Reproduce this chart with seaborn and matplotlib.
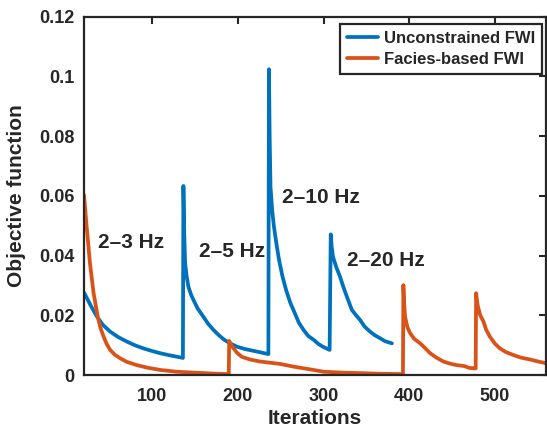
import numpy as np
import pandas as pd
import matplotlib
matplotlib.use("Agg")
import matplotlib.pyplot as plt
import seaborn as sns

# ---- data ----
blue_x = [20, 28, 35.3, 42, 50.7, 60, 70, 80, 89.5, 100, 109, 120, 134.3, 135.6,
          136.2, 137.2, 138.2, 140, 142, 145, 148, 153, 159.6, 165, 171.3, 177, 183, 190, 198.6, 208, 218, 226, 235.5,
          236.2, 237, 238, 240, 242, 245, 248, 252, 256.2, 261, 266.4, 271, 276.6, 282, 288.8, 294, 299, 307.1,
          308.4, 309.5, 311, 315, 319.3, 323, 327.3, 333.1, 338, 342.8, 348, 354.5, 360, 366.2, 372, 379.9]
blue_y = [0.0276, 0.0232, 0.0195, 0.0168, 0.0145, 0.0127, 0.0112, 0.0099, 0.0089, 0.0080, 0.0073, 0.0066, 0.0058, 0.0057,
          0.0633, 0.0470, 0.0374, 0.0330, 0.0296, 0.0270, 0.0251, 0.0222, 0.0195, 0.0172, 0.0151, 0.0135, 0.0120, 0.0107, 0.0095, 0.0087, 0.0081, 0.0076, 0.0070,
          0.1024, 0.0800, 0.0630, 0.0550, 0.0497, 0.0438, 0.0385, 0.0330, 0.0285, 0.0243, 0.0207, 0.0176, 0.0151, 0.0131, 0.0117, 0.0104, 0.0095, 0.0084,
          0.0471, 0.0430, 0.0396, 0.0360, 0.0329, 0.0296, 0.0262, 0.0218, 0.0200, 0.0184, 0.0162, 0.0145, 0.0133, 0.0123, 0.0113, 0.0106]

orange_x = [20, 23.1, 27, 31.2, 35.9, 39, 43, 46.5, 50.6, 56, 62.3, 70, 81.8, 95, 109, 128, 148, 170, 187, 189.2,
            189.7, 192, 194.9, 199, 204.4, 214, 226, 238, 249.4, 265, 282, 300, 322, 346.5, 370, 391.3, 392.8,
            393.3, 394.2, 395.3, 398, 401.2, 406, 412.9, 418, 424.6, 432, 440.2, 448, 455.6, 464.5, 470, 477, 477.8,
            478.3, 480, 483, 486.9, 490, 494.5, 500, 506.2, 513, 521.8, 531, 541.4, 551, 561]
orange_y = [0.0603, 0.0497, 0.0374, 0.0274, 0.0198, 0.0160, 0.0128, 0.0104, 0.0084, 0.0068, 0.0056, 0.0044, 0.0033,
            0.0024, 0.0017, 0.0011, 0.0008, 0.0005, 0.0003, 0.0003,
            0.0114, 0.0100, 0.0089, 0.0074, 0.0061, 0.0052, 0.0045, 0.0041, 0.0037, 0.0028, 0.0020, 0.0011, 0.0008, 0.0006, 0.0004, 0.0003, 0.0003,
            0.0301, 0.0240, 0.0195, 0.0160, 0.0140, 0.0121, 0.0106, 0.0092, 0.0073, 0.0058, 0.0045, 0.0038, 0.0033, 0.0030, 0.0024, 0.0022, 0.0022,
            0.0274, 0.0235, 0.0201, 0.0179, 0.0152, 0.0128, 0.0106, 0.0089, 0.0077, 0.0067, 0.0058, 0.0052, 0.0045, 0.0039]

series_names = ["Unconstrained FWI", "Facies-based FWI"]
band_labels = ["2\u20133 Hz", "2\u20135 Hz", "2\u201310 Hz", "2\u201320 Hz"]
band_x = [36, 154, 251, 327]
band_y = [0.0443, 0.0413, 0.0594, 0.0383]
x_ticks = [100, 200, 300, 400, 500]
y_ticks = [0, 0.02, 0.04, 0.06, 0.08, 0.1, 0.12]
y_tick_labels = ["0", "0.02", "0.04", "0.06", "0.08", "0.1", "0.12"]

df = pd.concat([
    pd.DataFrame({"Iterations": blue_x, "Objective function": blue_y,
                  "Method": series_names[0]}),
    pd.DataFrame({"Iterations": orange_x, "Objective function": orange_y,
                  "Method": series_names[1]}),
], ignore_index=True)

sns.set_style("white")
plt.rcParams["font.family"] = ["Liberation Sans", "DejaVu Sans"]
plt.rcParams["font.weight"] = "bold"
ink = "#262626"

fig = plt.figure(figsize=(5.47, 4.30), dpi=100)
ax = fig.add_axes([0.15356, 0.1279, 0.8446, 0.8333])

sns.lineplot(data=df, x="Iterations", y="Objective function", hue="Method",
             hue_order=series_names, palette=["#0072BD", "#D95319"],
             estimator=None, sort=False, linewidth=2.7, ax=ax)

ax.set_xlim(20, 560)
ax.set_ylim(0, 0.12)
ax.set_xticks(x_ticks)
ax.set_xticklabels([str(t) for t in x_ticks])
ax.set_yticks(y_ticks)
ax.set_yticklabels(y_tick_labels)

ax.tick_params(direction="in", length=5, width=1.5, top=True, right=True,
               labelsize=13, colors=ink)
ax.tick_params(axis="x", pad=9)
ax.tick_params(axis="y", pad=7)
for lab in ax.get_xticklabels() + ax.get_yticklabels():
    lab.set_fontweight("bold")
for s in ax.spines.values():
    s.set_visible(True)
    s.set_linewidth(1.6)
    s.set_color(ink)

ax.set_xlabel("Iterations", fontsize=15, fontweight="bold", color=ink, labelpad=3)
ax.set_ylabel("Objective function", fontsize=15, fontweight="bold", color=ink, labelpad=9)

for lbl, bx, by in zip(band_labels, band_x, band_y):
    ax.text(bx, by, lbl, fontsize=15, fontweight="bold", color=ink,
            ha="left", va="center")

leg = ax.legend(loc="upper right", bbox_to_anchor=(0.9907, 0.9796),
                borderaxespad=0, frameon=True, fancybox=False,
                prop={"weight": "bold", "size": 12}, handlelength=1.85,
                handletextpad=0.35, labelspacing=0.4, borderpad=0.4)
leg.get_frame().set_edgecolor(ink)
leg.get_frame().set_linewidth(1.6)
leg.get_frame().set_alpha(1)
for t in leg.get_texts():
    t.set_color(ink)

fig.savefig("out.png", dpi=100)
